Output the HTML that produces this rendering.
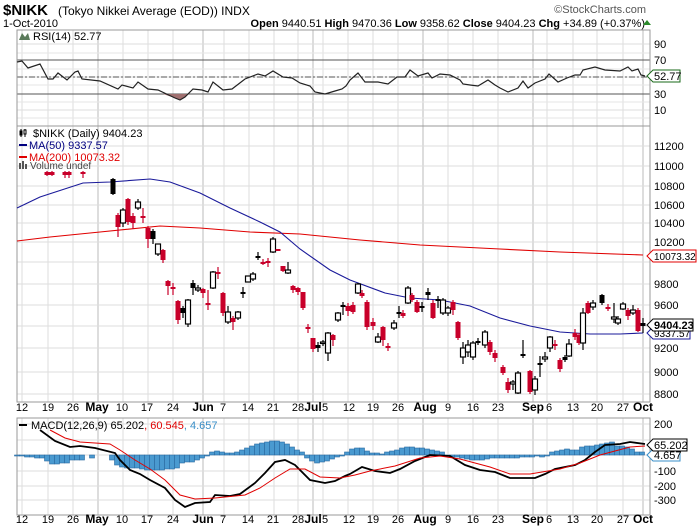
<!DOCTYPE html>
<html><head><meta charset="utf-8"><style>
body{margin:0;background:#fff;width:700px;height:530px;overflow:hidden}
svg{display:block;font-family:"Liberation Sans",sans-serif}
</style></head><body>
<svg id="s" width="700" height="530" xmlns="http://www.w3.org/2000/svg">
<rect width="700" height="530" fill="#fff"/>
<g id="grid"></g>
<text x="3" y="15" font-size="15" font-weight="bold">$NIKK</text>
<text x="58" y="15" font-size="12">(Tokyo Nikkei Average (EOD))  INDX</text>
<text x="3" y="27" font-size="11">1-Oct-2010</text>
<text x="646" y="13" font-size="11" fill="#555" text-anchor="end">©StockCharts.com</text>
<text x="645" y="27" font-size="11" text-anchor="end"><tspan font-weight="bold">Open</tspan> 9440.51 <tspan font-weight="bold">High</tspan> 9470.36 <tspan font-weight="bold">Low</tspan> 9358.62 <tspan font-weight="bold">Close</tspan> 9404.23 <tspan font-weight="bold">Chg</tspan> +34.89 (+0.37%)</text>
<polygon points="643,25 651,25 647,20" fill="#2a8a2a"/>
<g id="plots"></g>
<g font-size="11">
<text x="33" y="40">RSI(14) 52.77</text>
<text x="33" y="137">$NIKK (Daily) 9404.23</text>
<text x="29" y="149" fill="#000080">MA(50) 9337.57</text>
<text x="29" y="161" fill="#e00000">MA(200) 10073.32</text>
<text x="30" y="169" fill="#444" font-size="10">Volume undef</text>
<text x="31" y="429">MACD(12,26,9) 65.202<tspan fill="#e00000">, 60.545</tspan><tspan fill="#3a8fc8">, 4.657</tspan></text>
</g>
<polygon points="19,40 22,33 25,37 28,33 30,40" fill="#5a7a5a"/>
<g stroke="#000" stroke-width="1"><line x1="21" y1="129" x2="21" y2="137"/><line x1="25" y1="129" x2="25" y2="137"/><rect x="20" y="131" width="2" height="4" fill="#000"/><rect x="24" y="130" width="2" height="4" fill="#fff"/></g>
<g fill="#555"><rect x="19" y="163" width="2" height="6"/><rect x="22" y="161" width="2" height="8"/><rect x="25" y="164" width="2" height="5"/></g>
<rect x="19" y="144" width="8" height="2" fill="#000080"/>
<rect x="19" y="156" width="8" height="2" fill="#e00000"/>
<rect x="19" y="424" width="8" height="2" fill="#000"/>
</svg>
<script>
const S=document.getElementById('plots'),G=document.getElementById('grid');
const NS='http://www.w3.org/2000/svg';
function el(p,t,a,txt){const e=document.createElementNS(NS,t);for(const k in a)e.setAttribute(k,a[k]);if(txt!==undefined)e.textContent=txt;p.appendChild(e);return e;}
const L=17,R=650;
const panels=[[30,126],[126,402],[418,515]];
const wk=[22,48,73,123,148,173,224,249,274,298,323,348,373,398,448,473,498,547,573,597,623];
const mo=[98,203,313,423,533,643];
panels.forEach(([a,b])=>{
 wk.forEach(x=>el(G,'line',{x1:x,x2:x,y1:a,y2:b,stroke:'#ddd'}));
 mo.forEach(x=>el(G,'line',{x1:x,x2:x,y1:a,y2:b,stroke:'#bbb'}));
});
const rsiY=[[90,44],[70,60],[50,77],[30,94],[10,110]];
rsiY.forEach(([v,y])=>{el(G,'line',{x1:L,x2:R,y1:y,y2:y,stroke:'#ddd'});if(v!=50)el(G,'text',{x:654,y:y+4,'font-size':11},v);});
[53,69,85,102,118].forEach(y=>el(G,'line',{x1:L,x2:R,y1:y,y2:y,stroke:'#e6e6e6'}));
el(G,'line',{x1:L,x2:R,y1:60,y2:60,stroke:'#555'});
el(G,'line',{x1:L,x2:R,y1:94,y2:94,stroke:'#555'});
el(G,'line',{x1:L,x2:R,y1:77,y2:77,stroke:'#555','stroke-dasharray':'6,2,2,2'});
const pr=[[11200,146],[11000,166],[10800,186],[10600,205],[10400,223],[10200,242],[10000,262],[9800,284],[9600,305],[9400,326],[9200,348],[9000,372],[8800,394]];
pr.forEach(([v,y])=>{el(G,'line',{x1:L,x2:R,y1:y,y2:y,stroke:'#ddd'});if(v!=9400&&v!=10000)el(G,'text',{x:654,y:y+4,'font-size':11},v);});
const md=[[200,424],[100,440],[0,455],[-100,471],[-200,486],[-300,500]];
md.forEach(([v,y])=>{el(G,'line',{x1:L,x2:R,y1:y,y2:y,stroke:'#ddd'});if(v!=100&&v!=0)el(G,'text',{x:654,y:y+4,'font-size':11},v);});
panels.forEach(([a,b])=>el(G,'rect',{x:L,y:a,width:R-L,height:b-a,fill:'none',stroke:'#999'}));
const xl=[[22,'12'],[48,'19'],[73,'26'],[97,'May',1],[122,'10'],[147,'17'],[173,'24'],[203,'Jun',1],[223,'7'],[248,'14'],[273,'21'],[298,'28'],[313,'Jul',1],[325,'5'],[349,'12'],[373,'19'],[398,'26'],[425,'Aug',1],[448,'9'],[473,'16'],[498,'23'],[533,'Sep',1],[549,'6'],[573,'13'],[597,'20'],[623,'27'],[643,'Oct',1]];
[411,523].forEach(y=>xl.forEach(([x,t,b])=>el(G,'text',{x:x,y:y,'font-size':b?12:11,'font-weight':b?'bold':'normal','text-anchor':'middle'},t)));
function poly(p,pts,c,w){el(p,'polyline',{points:pts.map(a=>a.join(',')).join(' '),fill:'none',stroke:c,'stroke-width':w});}
el(S,'polygon',{points:'163,94 175,98 180,100 185,97 189,94',fill:'#a07070'});
poly(S,[[17,62],[22,61],[28,68],[40,64],[48,79],[53,79],[58,73],[67,80],[75,72],[78,71],[82,79],[100,81],[118,89],[122,85],[133,88],[138,82],[148,89],[158,90],[175,98],[180,100],[185,97],[193,89],[202,90],[208,92],[213,82],[223,90],[232,89],[245,79],[258,74],[265,76],[273,71],[283,77],[292,78],[300,83],[310,86],[315,92],[325,94],[335,91],[342,89],[346,86],[350,80],[358,73],[365,82],[378,82],[388,84],[397,77],[405,77],[410,70],[418,76],[428,73],[432,78],[440,74],[450,75],[460,80],[463,84],[470,85],[478,86],[488,80],[495,85],[500,88],[508,92],[518,88],[523,81],[528,88],[535,83],[545,79],[549,74],[558,82],[567,78],[575,75],[580,75],[583,70],[595,67],[605,70],[620,71],[628,67],[632,71],[638,69],[641,75],[645,76]],'#222',1.2);
poly(S,[[17,241],[50,237],[100,232],[160,226],[200,228],[250,232],[300,234],[360,240],[420,245],[500,249],[560,252],[643,255]],'#e00000',1.1);
poly(S,[[17,208],[40,197],[83,183],[110,182],[150,179],[170,182],[200,193],[230,208],[260,222],[280,232],[300,249],[330,270],[350,280],[385,293],[410,298],[440,300],[470,306],[500,318],[530,326],[560,332],[590,334],[620,334],[643,333]],'#1a1a9a',1.1);
const C=[[47,172,175,171,176,'r'],[52,172,175,171,176,'r'],[65,172,175,171,178,'r'],[69,172,175,171,178,'r'],[83,172,174,171,178,'r'],
[113,179,194,178,195,'b'],[118,215,227,213,237,'r'],[123,210,223,208,227,'w'],[128,199,222,198,225,'r'],[133,216,223,213,229,'r'],[138,202,208,199,210,'w'],[143,216,218,208,223,'r'],[148,228,239,226,248,'r'],[153,231,239,229,244,'b'],[158,244,254,244,256,'w'],[163,250,260,249,263,'r'],[168,281,286,280,295,'r'],[173,287,289,283,295,'r'],[178,301,320,300,324,'r'],[183,308,313,306,318,'b'],[188,300,324,299,327,'w'],[193,283,288,280,295,'b'],[198,288,290,285,292,'w'],[203,289,293,288,298,'r'],[208,303,305,290,310,'r'],[213,272,288,271,289,'w'],[218,272,274,267,279,'r'],[223,293,313,292,316,'r'],[228,312,322,306,324,'w'],[233,318,322,316,330,'r'],[238,312,318,311,320,'w'],[243,292,294,287,298,'b'],[248,276,282,276,282,'w'],[253,274,279,272,281,'w'],[258,256,258,252,260,'b'],[263,262,264,259,265,'r'],[268,261,263,258,267,'r'],[273,239,252,237,253,'w'],[278,249,251,249,251,'r'],[283,266,271,266,272,'r'],[288,270,273,262,274,'w'],[293,286,290,285,293,'r'],[298,288,292,287,295,'r'],[303,292,308,292,310,'r'],[308,327,329,324,333,'r'],[313,338,349,338,352,'r'],[318,345,348,342,352,'b'],[323,342,343,340,346,'w'],[328,333,353,332,361,'w'],[333,335,340,334,346,'r'],[338,313,320,312,322,'w'],[343,305,307,302,315,'b'],[348,306,311,303,316,'r'],[353,305,312,302,314,'r'],[358,284,293,283,294,'w'],[362,293,296,290,298,'r'],[367,302,327,300,330,'r'],[373,322,326,318,330,'r'],[378,337,342,333,343,'w'],[383,327,340,326,346,'r'],[388,346,348,343,351,'r'],[394,323,328,320,330,'w'],[399,312,314,306,318,'b'],[403,313,316,310,318,'r'],[408,288,303,286,304,'w'],[412,295,300,293,302,'r'],[417,302,312,300,313,'r'],[422,306,308,302,312,'b'],[428,292,295,288,300,'b'],[433,303,318,300,319,'r'],[438,299,301,296,308,'b'],[443,300,313,298,315,'w'],[448,308,313,306,316,'w'],[453,302,310,300,315,'r'],[458,322,338,321,340,'r'],[463,348,357,342,364,'w'],[468,345,352,340,357,'w'],[473,343,357,341,360,'w'],[478,341,343,338,345,'b'],[485,332,345,330,348,'w'],[490,342,352,340,355,'r'],[495,353,358,350,362,'r'],[503,367,373,365,375,'r'],[508,382,390,378,393,'r'],[513,382,384,380,390,'w'],[518,373,393,371,394,'w'],[523,354,356,340,358,'b'],[530,371,392,370,394,'r'],[535,379,390,376,395,'w'],[540,363,365,356,377,'b'],[545,357,359,352,362,'w'],[550,337,348,336,352,'w'],[555,344,346,340,350,'r'],[560,360,369,358,372,'r'],[565,357,360,355,362,'b'],[569,344,356,339,357,'w'],[575,333,337,329,340,'r'],[579,335,343,333,345,'r'],[583,313,343,308,350,'w'],[588,303,313,301,314,'r'],[593,303,307,300,310,'w'],[602,295,303,294,305,'b'],[608,307,309,304,311,'r'],[614,317,319,303,323,'w'],[618,319,323,316,325,'w'],[623,304,309,302,310,'w'],[628,310,316,308,320,'r'],[633,310,313,305,315,'w'],[638,310,331,308,332,'r'],[643,323,326,318,333,'b']];
C.forEach(([x,a,b,h,l,t])=>{
 const col=t=='r'?'#c8002a':'#000';
 el(S,'line',{x1:x,x2:x,y1:h,y2:l,stroke:col,'stroke-width':1.2});
 el(S,'rect',{x:x-2.5,y:Math.min(a,b),width:5,height:Math.max(1.5,Math.abs(b-a)),fill:t=='w'?'#fff':col,stroke:col,'stroke-width':t=='w'?1.2:0});
});
const hv=[[17,456],[22,456],[27,457],[32,457],[37,458],[42,458],[47,461],[52,464],[57,464],[62,463],[67,463],[72,460],[77,460],[82,460],[92,458],[112,460],[117,465],[122,467],[127,468],[132,468],[137,468],[142,469],[147,470],[152,470],[157,470],[162,470],[167,469],[172,469],[177,468],[182,463],[187,462],[192,462],[197,460],[202,458],[207,456],[212,452],[217,451],[222,452],[227,453],[232,453],[237,452],[242,450],[247,448],[252,446],[257,444],[262,443],[267,442],[272,441],[277,441],[282,442],[287,444],[292,447],[297,450],[302,452],[307,458],[312,461],[317,463],[322,462],[327,461],[332,459],[337,457],[342,456],[347,452],[352,449],[357,448],[362,448],[367,451],[372,453],[377,453],[382,454],[387,452],[392,451],[397,450],[402,448],[407,447],[412,447],[417,448],[422,448],[427,449],[432,450],[437,451],[442,452],[447,455],[452,457],[457,457],[462,458],[467,459],[472,460],[477,460],[482,460],[487,459],[492,458],[497,458],[502,458],[507,458],[512,458],[517,458],[522,457],[527,457],[532,457],[537,456],[542,457],[547,455],[552,452],[557,451],[562,450],[567,449],[572,450],[577,450],[582,447],[587,446],[592,446],[597,445],[602,444],[607,443],[612,442],[617,446],[622,446],[627,447],[632,449],[637,452],[642,452]];
hv.forEach(([x,y])=>el(S,'rect',{x:x-2.5,y:Math.min(y,455),width:5,height:Math.max(1,Math.abs(y-455)),fill:'#4a9ad0',stroke:'#2a6aa0','stroke-width':0.6}));
poly(S,[[40,430],[55,441],[70,447],[80,446],[95,448],[115,453],[120,460],[130,470],[140,474],[150,480],[165,488],[175,500],[185,507],[195,503],[210,502],[215,495],[230,496],[240,494],[255,483],[265,473],[275,462],[285,460],[295,465],[310,480],[325,483],[335,481],[345,476],[350,474],[362,467],[375,471],[390,473],[400,469],[415,461],[430,455],[450,456],[465,465],[480,470],[495,472],[510,478],[525,478],[535,478],[545,474],[555,469],[575,465],[585,460],[595,452],[605,445],[620,444],[630,442],[645,444]],'#000',1.8);
poly(S,[[50,430],[65,438],[80,442],[110,444],[120,450],[135,460],[150,469],[165,480],[180,495],[195,499],[215,498],[245,495],[260,488],[275,478],[290,469],[305,469],[320,477],[340,478],[355,475],[370,471],[395,466],[420,458],[440,456],[460,459],[490,467],[510,474],[530,474],[560,469],[580,463],[600,455],[630,447],[645,446]],'#e00000',1);
function tag(y,txt,col,bold,fs,w){const r=647+(w||38);el(S,'polygon',{points:`647,${y} 653,${y-6} ${r},${y-6} ${r},${y+6} 653,${y+6}`,fill:'#fff',stroke:col});el(S,'text',{x:654,y:y+4,'font-size':fs||11,fill:'#000','font-weight':bold?'bold':'normal'},txt);}
tag(76,'52.77','#1a6a1a',0,11,33);
tag(256,'10073.32','#e00000',0,10,49);
tag(333,'9337.57','#1a1a9a',0,10,43);
tag(325,'9404.23','#000',1,11,46);
tag(455,'4.657','#3a8fc8',0,11,33);
tag(445,'65.202','#000',0,11,40);
</script>
</body></html>
